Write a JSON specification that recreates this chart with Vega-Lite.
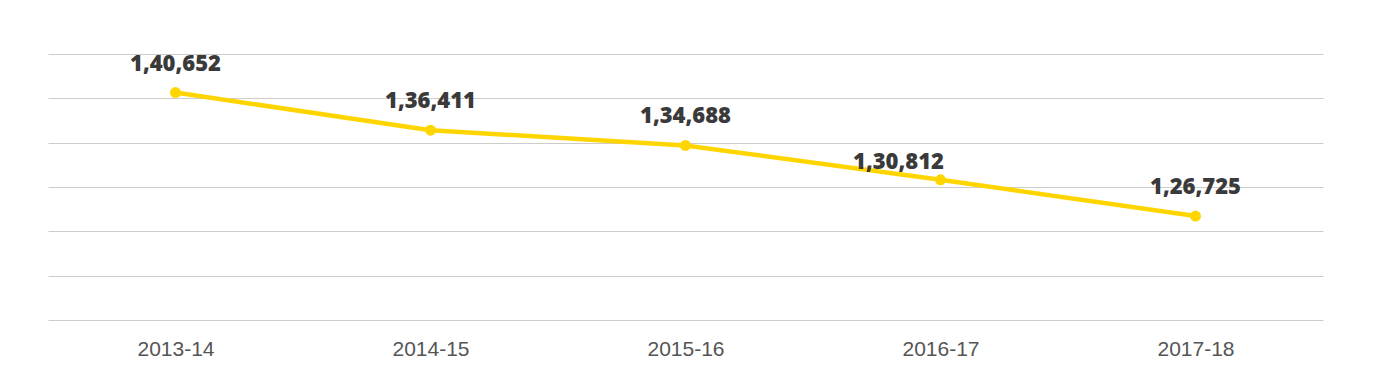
{
  "$schema": "https://vega.github.io/schema/vega-lite/v6.json",
  "autosize": "none",
  "width": 1275,
  "height": 266,
  "padding": {"left": 48, "top": 54, "right": 60, "bottom": 64},
  "background": "white",
  "config": {"view": {"stroke": null}},
  "data": {
    "values": [
      {"year": "2013-14", "value": 140652, "label": "1,40,652"},
      {"year": "2014-15", "value": 136411, "label": "1,36,411"},
      {"year": "2015-16", "value": 134688, "label": "1,34,688"},
      {"year": "2016-17", "value": 130812, "label": "1,30,812"},
      {"year": "2017-18", "value": 126725, "label": "1,26,725"}
    ]
  },
  "encoding": {
    "x": {
      "field": "year", "type": "ordinal",
      "scale": {"type": "point", "padding": 0.5},
      "axis": {
        "title": null, "ticks": false, "domain": false, "grid": false,
        "labelAngle": 0, "labelFont": "Liberation Sans", "labelFontSize": 21,
        "labelColor": "#555555", "labelPadding": 18
      }
    },
    "y": {
      "field": "value", "type": "quantitative",
      "scale": {"domain": [115000, 145000], "zero": false, "nice": false},
      "axis": {
        "title": null, "labels": false, "ticks": false, "domain": false,
        "values": [115000, 120000, 125000, 130000, 135000, 140000, 145000],
        "gridColor": "#cccccc", "gridWidth": 1.2
      }
    }
  },
  "layer": [
    {"mark": {"type": "line", "color": "#FFD500", "strokeWidth": 4.5}},
    {"mark": {"type": "point", "filled": true, "color": "#FFD500", "size": 120, "opacity": 1}},
    {
      "transform": [{"filter": "datum.year != '2016-17'"}],
      "mark": {"type": "text", "font": "Open Sans", "fontWeight": 800, "fontSize": 22, "color": "#3a3a3a", "baseline": "alphabetic", "dy": -22},
      "encoding": {"text": {"field": "label"}}
    },
    {
      "transform": [{"filter": "datum.year == '2016-17'"}],
      "mark": {"type": "text", "font": "Open Sans", "fontWeight": 800, "fontSize": 22, "color": "#3a3a3a", "baseline": "alphabetic", "dy": -11, "dx": -42},
      "encoding": {"text": {"field": "label"}}
    }
  ]
}
